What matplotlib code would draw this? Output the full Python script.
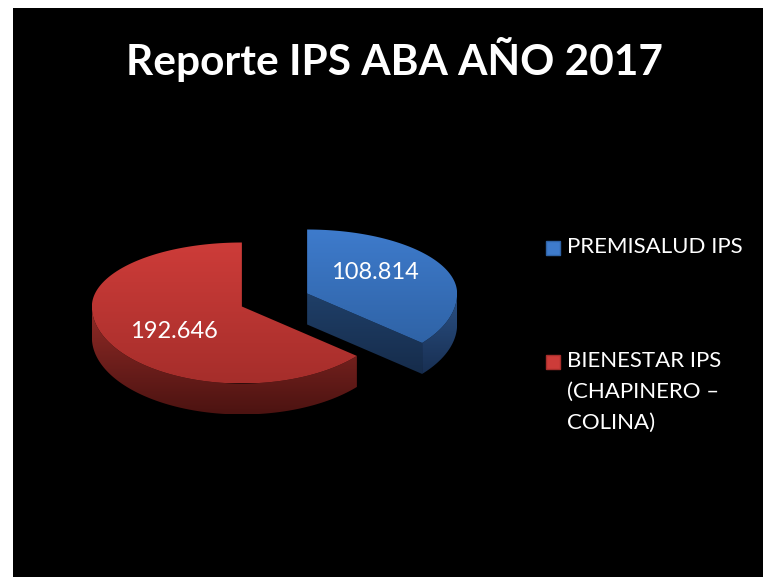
import numpy as np
import matplotlib
matplotlib.use("Agg")
import matplotlib.pyplot as plt
from matplotlib.patches import Polygon, Rectangle
from matplotlib.colors import LinearSegmentedColormap

# data
title = "Reporte IPS ABA AÑO 2017"
names = ["PREMISALUD IPS", "BIENESTAR IPS\n(CHAPINERO –\nCOLINA)"]
values = [108.814, 192.646]
value_labels = ["108.814", "192.646"]

# styles (top face light/dark, wall light/dark, cut face light/dark)
top_colors = [("#3e7bcc", "#2f63a6"), ("#cd3c39", "#a62e2b")]
wall_colors = [("#2b5185", "#182f52"), ("#922b27", "#4c1311")]
cut_colors = [("#1f3f68", "#162c4b"), ("#6a1d1a", "#3e100e")]

W, H = 763, 577
CX, CY = 274.5, 300.0
RX, RY_BACK, RY_FRONT = 150.0, 64.0, 77.0
DEPTH = 31.0
EXPLODE = 36.0

plt.rcParams["font.family"] = ["Lato", "DejaVu Sans"]

fig = plt.figure(figsize=(W / 100, H / 100), dpi=100)
fig.patch.set_facecolor("white")
ax = fig.add_axes([0, 0, 1, 1])
ax.set_xlim(0, W)
ax.set_ylim(H, 0)
ax.axis("off")
ax.add_patch(Rectangle((13, 8), W - 13, H - 8, facecolor="black", edgecolor="none", zorder=0))


def point(cx, cy, theta, z=0.0):
    t = np.radians(theta)
    c = np.cos(t)
    ry = np.where(c > 0, RY_BACK, RY_FRONT)
    return cx + RX * np.sin(t), cy - ry * c + z


def gradient_fill(verts, c1, c2, zorder):
    poly = Polygon(verts, closed=True, facecolor="none", edgecolor="none", zorder=zorder)
    ax.add_patch(poly)
    xs, ys = verts[:, 0], verts[:, 1]
    cmap = LinearSegmentedColormap.from_list("g", [c1, c2])
    grad = np.linspace(0, 1, 256).reshape(-1, 1)
    im = ax.imshow(grad, cmap=cmap, aspect="auto", zorder=zorder,
                   extent=(xs.min(), xs.max(), ys.max(), ys.min()), interpolation="bilinear")
    im.set_clip_path(poly)
    ax.set_xlim(0, W)
    ax.set_ylim(H, 0)


total = sum(values)
start = 0.0
for i, v in enumerate(values):
    span = 360.0 * v / total
    a0, a1 = start, start + span
    mid = (a0 + a1) / 2
    tm = np.radians(mid)
    ax0 = CX + EXPLODE * np.sin(tm)
    ay0 = CY - EXPLODE * (RY_BACK / RX) * np.cos(tm)

    # outer wall (front half only)
    w0, w1 = max(a0, 90.0), min(a1, 270.0)
    if w1 > w0:
        th = np.linspace(w0, w1, 120)
        xt, yt = point(ax0, ay0, th)
        xb, yb = point(ax0, ay0, th, DEPTH)
        verts = np.column_stack([np.r_[xt, xb[::-1]], np.r_[yt, yb[::-1]]])
        gradient_fill(verts, wall_colors[i][0], wall_colors[i][1], 2)

    # radial cut face at end angle (visible when it faces the viewer)
    if 90.0 < a1 < 180.0:
        ex, ey = point(ax0, ay0, a1)
        verts = np.array([[ax0, ay0], [ex, ey], [ex, ey + DEPTH], [ax0, ay0 + DEPTH]])
        gradient_fill(verts, cut_colors[i][0], cut_colors[i][1], 1)

    # top face
    th = np.linspace(a0, a1, 240)
    xt, yt = point(ax0, ay0, th)
    verts = np.column_stack([np.r_[ax0, xt], np.r_[ay0, yt]])
    gradient_fill(verts, top_colors[i][0], top_colors[i][1], 3)

    # data label
    lx, ly = point(ax0, ay0, mid)
    ax.text(ax0 + 0.5 * (lx - ax0), ay0 + 0.76 * (ly - ay0), value_labels[i], color="white",
            fontsize=17, ha="center", va="center", zorder=5)
    start = a1

ax.text(394, 60, title, color="white", fontsize=30.5, fontweight="bold",
        ha="center", va="center", zorder=5)

# legend
legend_y = [248, 362]
for i, name in enumerate(names):
    ax.add_patch(Rectangle((546, legend_y[i] - 7), 14, 14, facecolor=top_colors[i][0],
                           edgecolor=top_colors[i][1], linewidth=1, zorder=5))
    ax.text(567, legend_y[i] - 11, name, color="white", fontsize=16, ha="left", va="top",
            linespacing=1.68, zorder=5)

fig.savefig("out.png", dpi=100, facecolor=fig.get_facecolor())
